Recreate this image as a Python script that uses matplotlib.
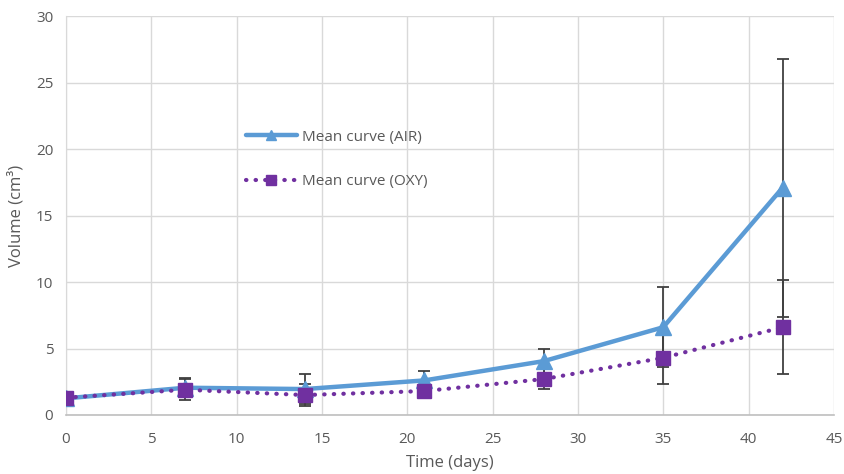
import matplotlib
matplotlib.use("Agg")
import matplotlib.pyplot as plt

days = [0, 7, 14, 21, 28, 35, 42]
air_mean = [1.25, 2.05, 1.95, 2.6, 4.05, 6.6, 17.1]
air_err = [0.15, 0.7, 1.1, 0.7, 0.9, 3.0, 9.7]
oxy_mean = [1.3, 1.9, 1.5, 1.8, 2.7, 4.3, 6.6]
oxy_err = [0.15, 0.8, 0.8, 0.4, 0.75, 2.0, 3.55]

plt.rcParams['font.family'] = ['Open Sans', 'DejaVu Sans']

fig = plt.figure(figsize=(8.44, 4.74), dpi=100)
ax = fig.add_axes([0.078, 0.1245, 0.910, 0.8415])

blue = '#5B9BD5'
purple = '#7030A0'
ecol = '#404040'

ax.errorbar(days, air_mean, yerr=air_err, fmt='none', ecolor=ecol, elinewidth=1.3, capsize=4, capthick=1.3, zorder=3)
ax.errorbar(days, oxy_mean, yerr=oxy_err, fmt='none', ecolor=ecol, elinewidth=1.3, capsize=4, capthick=1.3, zorder=3)
ax.plot(days, air_mean, color=blue, lw=3.2, marker='^', ms=11, mec=blue, mfc=blue,
        label='Mean curve (AIR)', zorder=4, solid_capstyle='round')
ax.plot(days, oxy_mean, color=purple, lw=3, linestyle=(0, (0.1, 2.2)), dash_capstyle='round',
        marker='s', ms=10, mec=purple, mfc=purple, label='Mean curve (OXY)', zorder=5)

ax.set_xlim(0, 45)
ax.set_ylim(0, 30)
ax.set_xticks(range(0, 46, 5))
ax.set_yticks(range(0, 31, 5))
ax.grid(True, color='#D9D9D9', lw=1)
ax.set_axisbelow(True)
for s in ['top', 'right']:
    ax.spines[s].set_visible(False)
ax.spines['left'].set_color('#D9D9D9')
ax.spines['bottom'].set_color('#BFBFBF')
ax.spines['bottom'].set_linewidth(1.2)
ax.tick_params(length=0, labelsize=11, colors='#595959')
ax.tick_params(axis='x', pad=12)
ax.tick_params(axis='y', pad=9)

ax.set_xlabel('Time (days)', fontsize=12, color='#595959', labelpad=6)
ax.set_ylabel('Volume (cm³)', fontsize=12, color='#595959', labelpad=8)

leg = ax.legend(loc='upper left', bbox_to_anchor=(0.217, 0.75), frameon=False, fontsize=11,
                labelspacing=1.95, handlelength=3.3, handletextpad=0.35, labelcolor='#595959',
                markerscale=0.7)

fig.savefig('out.png', dpi=100)
